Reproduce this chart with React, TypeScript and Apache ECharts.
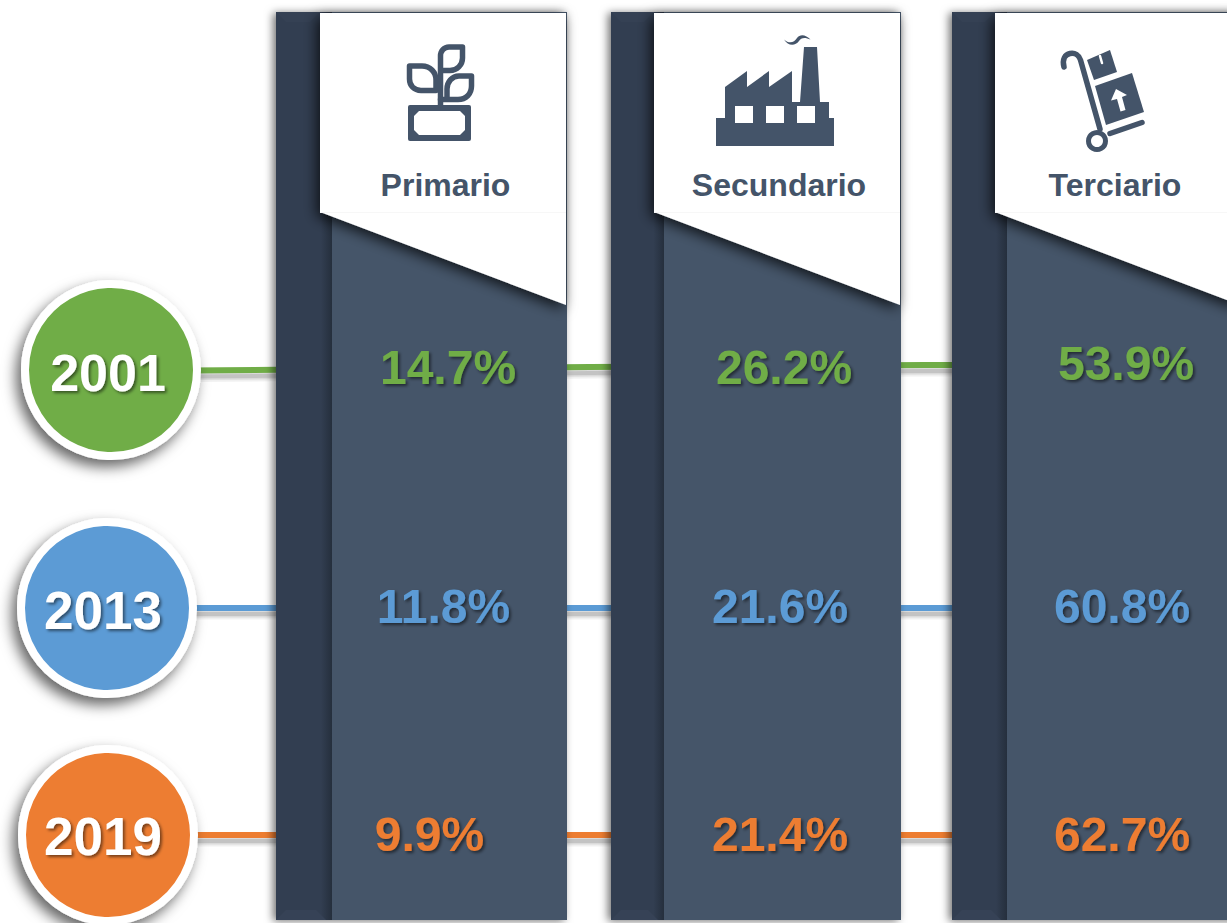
import React, { useEffect, useRef } from "react";
import * as echarts from "echarts";

// ---- data ----
const sectors = ["Primario", "Secundario", "Terciario"];
const years = ["2001", "2013", "2019"];
const values2001 = [14.7, 26.2, 53.9];
const values2013 = [11.8, 21.6, 60.8];
const values2019 = [9.9, 21.4, 62.7];

// ---- layout (pixel positions on the full-page value axes) ----
const W = 1227;
const H = 923;
const yearColors = ["#70AD47", "#5B9BD5", "#ED7D31"];
const ink = "#445469";
const stripColor = "#323E51";
const FONT = '"Liberation Sans", Arial, sans-serif';

const panelLeft = [276, 611, 952];
const headerLeft = [320, 654, 995];
const bodyLeft = [332, 664, 1007];
const panelRight = [567, 901, 1241];
const headerCenter = [445.5, 779, 1115];

const circleCenters = [
  [111, 370],
  [107, 608],
  [108, 835],
];
const yearLabelOffset = [
  [-3, 3],
  [-4, 2],
  [-5, 1],
];
const yearFontSize = [52, 53, 53];
const labelX = [
  [448, 784, 1126],
  [443.5, 780, 1122],
  [429.5, 780, 1122],
];
const labelY = [
  [367, 367, 363],
  [606, 606, 606],
  [834, 834, 834],
];
const connectors = [
  [[190, 370.5], [300, 369.5], [590, 367], [925, 365], [975, 365]],
  [[190, 608], [300, 608], [590, 608], [925, 608], [975, 608]],
  [[190, 835], [300, 835], [590, 835], [925, 835], [975, 835]],
];

const yearValues = [values2001, values2013, values2019];

// ---- icons ----
function stroke(d: string, w = 5.5, color = ink) {
  return {
    type: "path",
    shape: { pathData: d },
    style: { fill: "none", stroke: color, lineWidth: w, lineJoin: "round", lineCap: "round" },
  };
}
function fill(d: string, color = ink) {
  return { type: "path", shape: { pathData: d }, style: { fill: color, stroke: "none" } };
}

function plantIcon() {
  return [
    fill("M410,105 L469,105 Q471,105 471,107 L471,139 Q471,141 469,141 L410,141 Q408,141 408,139 L408,107 Q408,105 410,105 Z"),
    fill("M419,111 L460,111 L465,116 L465,130 L460,135 L419,135 L414,130 L414,116 Z", "#FFFFFF"),
    stroke("M440.5,105 L440.5,56 C440.5,51 444,47 449,47 L462.5,47 L462.5,58 C462.5,65 457,70.5 450,70.5 L440.5,70.5"),
    stroke("M436,90.5 L421,90.5 C414,90.5 409.5,85.5 409.5,79 L409.5,66 L422,66 C430,66 436,72 436,80 L436,90.5 Z"),
    stroke("M440.5,99.5 L458,99.5 C466,99.5 471.5,94 471.5,86 L471.5,76 L459,76 C452,76 447,82 447,89 L447,99.5"),
  ];
}
function factoryIcon() {
  return [
    fill("M725,87 L747,71 L747,87 L769,71 L769,87 L792,71 L792,102 L800,102 L804,47 L817,47 L820,102 L829,102 L829,118 L834,118 L834,146 L716,146 L716,118 L725,118 Z"),
    fill("M735,106 L753,106 L753,123 L735,123 Z", "#FFFFFF"),
    fill("M766,106 L784,106 L784,123 L766,123 Z", "#FFFFFF"),
    fill("M797,106 L815,106 L815,123 L797,123 Z", "#FFFFFF"),
    fill("M784,39.5 C789,44 794,43 797,38 C800,33.5 806,34.5 810.5,39.5 C805,37 801,37.5 799,41 C795,46.5 788,46 784,39.5 Z"),
  ];
}
function trolleyIcon() {
  return [
    stroke("M1064,67 C1062,59 1065,54.5 1070,53.5 C1075,52.5 1079,55 1080.5,60 L1100,129"),
    stroke("M1110,133.5 L1142,122.5"),
    { type: "circle", shape: { cx: 1097, cy: 141, r: 8.5 }, style: { fill: "#FFFFFF", stroke: ink, lineWidth: 5 } },
    fill("M1095,86 L1132,73 L1144,112 L1106,125 Z"),
    fill("M1087,60 L1110,50 L1117,72 L1094,80 Z"),
    stroke("M1100,56 L1102,63", 2.5, "#FFFFFF"),
    fill("M1116,89 L1127,95 L1122,97 L1125.5,110 L1120.5,111.5 L1117,99 L1111,100.5 Z", "#FFFFFF"),
  ];
}
const icons = [plantIcon, factoryIcon, trolleyIcon];

function renderPanel(params: any, api: any) {
  const i = params.dataIndex;
  const [left, top] = api.coord([api.value(0), api.value(1)]);
  const hl = headerLeft[i];
  const bl = bodyLeft[i];
  const r = panelRight[i];
  const bottom = 920;
  const stripGrad = new echarts.graphic.LinearGradient(0, 0, 1, 0, [
    { offset: 0, color: stripColor },
    { offset: 0.8, color: stripColor },
    { offset: 1, color: "#252F3D" },
  ]);
  return {
    type: "group",
    children: [
      {
        type: "rect",
        shape: { x: left, y: top, width: r - left, height: bottom - top },
        style: { fill: ink, shadowColor: "rgba(0,0,0,0.55)", shadowBlur: 9, shadowOffsetX: -3, shadowOffsetY: 1 },
      },
      {
        type: "rect",
        shape: { x: left, y: top, width: bl - left, height: bottom - top },
        style: { fill: stripGrad },
      },
      {
        type: "polygon",
        shape: { points: [[left, top], [hl, top], [hl - 10, top + 10], [left + 10, top + 10]] },
        style: { fill: "#354154" },
      },
      {
        type: "polygon",
        shape: { points: [[left, bottom], [bl - 6, bottom], [bl - 16, bottom - 10], [left + 10, bottom - 10]] },
        style: { fill: "#364256" },
      },
      {
        type: "polygon",
        shape: { points: [[hl, top + 1], [r - 1, top + 1], [r - 1, 305], [hl, 212]] },
        style: { fill: "#FFFFFF", shadowColor: "rgba(0,0,0,0.75)", shadowBlur: 14, shadowOffsetX: -3, shadowOffsetY: 4 },
      },
      {
        type: "line",
        shape: { x1: hl, y1: 212.5, x2: r - 1, y2: 212.5 },
        style: { stroke: "#F7F7F7", lineWidth: 1 },
      },
      ...icons[i](),
      {
        type: "text",
        style: {
          text: sectors[i],
          x: headerCenter[i],
          y: 185,
          fill: ink,
          font: `bold 32px ${FONT}`,
          align: "center",
          verticalAlign: "middle",
          textAlign: "center",
          textVerticalAlign: "middle",
        },
      },
    ],
  };
}

const panelData = sectors.map((_, i) => [panelLeft[i], 12]);

export default function App() {
  const ref = useRef<HTMLDivElement>(null);
  useEffect(() => {
    document.body.style.margin = "0";
    const chart = echarts.init(ref.current!, null, { renderer: "svg" });
    const softShadow = (k: number, width: number, alpha: number, dy: number) => ({
      type: "line",
      name: years[k] + " shadow " + width,
      z: 1,
      data: connectors[k].map(([x, y]) => [x, y + dy]),
      showSymbol: false,
      symbol: "none",
      silent: true,
      clip: false,
      lineStyle: { color: `rgba(0,0,0,${alpha})`, width },
    });
    const shadowSeries = years.flatMap((_, k) => [
      softShadow(k, 11, 0.06, 6),
      softShadow(k, 7, 0.09, 6),
      softShadow(k, 4, 0.1, 6),
    ]);
    const lineSeries = years.map((y, k) => ({
      type: "line",
      name: y + " line",
      z: 2,
      data: connectors[k],
      showSymbol: false,
      symbol: "none",
      silent: true,
      clip: false,
      lineStyle: { color: yearColors[k], width: 6 },
    }));
    const circleSeries = {
      type: "scatter",
      name: "years",
      z: 4,
      silent: true,
      clip: false,
      symbolSize: 172,
      data: years.map((y, k) => ({
        value: circleCenters[k],
        name: y,
        itemStyle: {
          color: yearColors[k],
          opacity: 1,
          borderColor: "#FFFFFF",
          borderWidth: 8,
          shadowColor: "rgba(0,0,0,0.6)",
          shadowBlur: 14,
          shadowOffsetX: -5,
          shadowOffsetY: 7,
        },
        label: {
          show: true,
          position: "inside",
          offset: yearLabelOffset[k],
          formatter: y,
          color: "#FFFFFF",
          fontFamily: FONT,
          fontWeight: "bold",
          fontSize: yearFontSize[k],
          textShadowColor: "rgba(0,0,0,0.5)",
          textShadowBlur: 3,
          textShadowOffsetX: 2,
          textShadowOffsetY: 2,
        },
      })),
    };
    const valueSeries = years.map((y, k) => ({
      type: "scatter",
      name: y,
      z: 5,
      silent: true,
      clip: false,
      symbolSize: 1,
      itemStyle: { color: "transparent", opacity: 1 },
      data: yearValues[k].map((v, i) => [labelX[k][i], labelY[k][i], v]),
      label: {
        show: true,
        position: "inside",
        formatter: (p: any) => `${p.value[2].toFixed(1)}%`,
        color: yearColors[k],
        fontFamily: FONT,
        fontWeight: "bold",
        fontSize: 48,
        textShadowColor: "rgba(0,0,0,0.5)",
        textShadowBlur: 3,
        textShadowOffsetX: 2,
        textShadowOffsetY: 2,
      },
    }));
    chart.setOption({
      animation: false,
      backgroundColor: "#FFFFFF",
      tooltip: { show: false },
      grid: { left: 0, right: 0, top: 0, bottom: 0 },
      xAxis: { type: "value", min: 0, max: W, show: false },
      yAxis: { type: "value", min: 0, max: H, inverse: true, show: false },
      series: [
        ...shadowSeries,
        ...lineSeries,
        {
          type: "custom",
          name: "panels",
          z: 3,
          silent: true,
          clip: false,
          data: panelData,
          encode: { x: 0, y: 1 },
          renderItem: renderPanel,
        },
        circleSeries,
        ...valueSeries,
      ],
    } as any);
    return () => chart.dispose();
  }, []);
  return <div ref={ref} style={{ width: W, height: H, overflow: "hidden" }} />;
}
